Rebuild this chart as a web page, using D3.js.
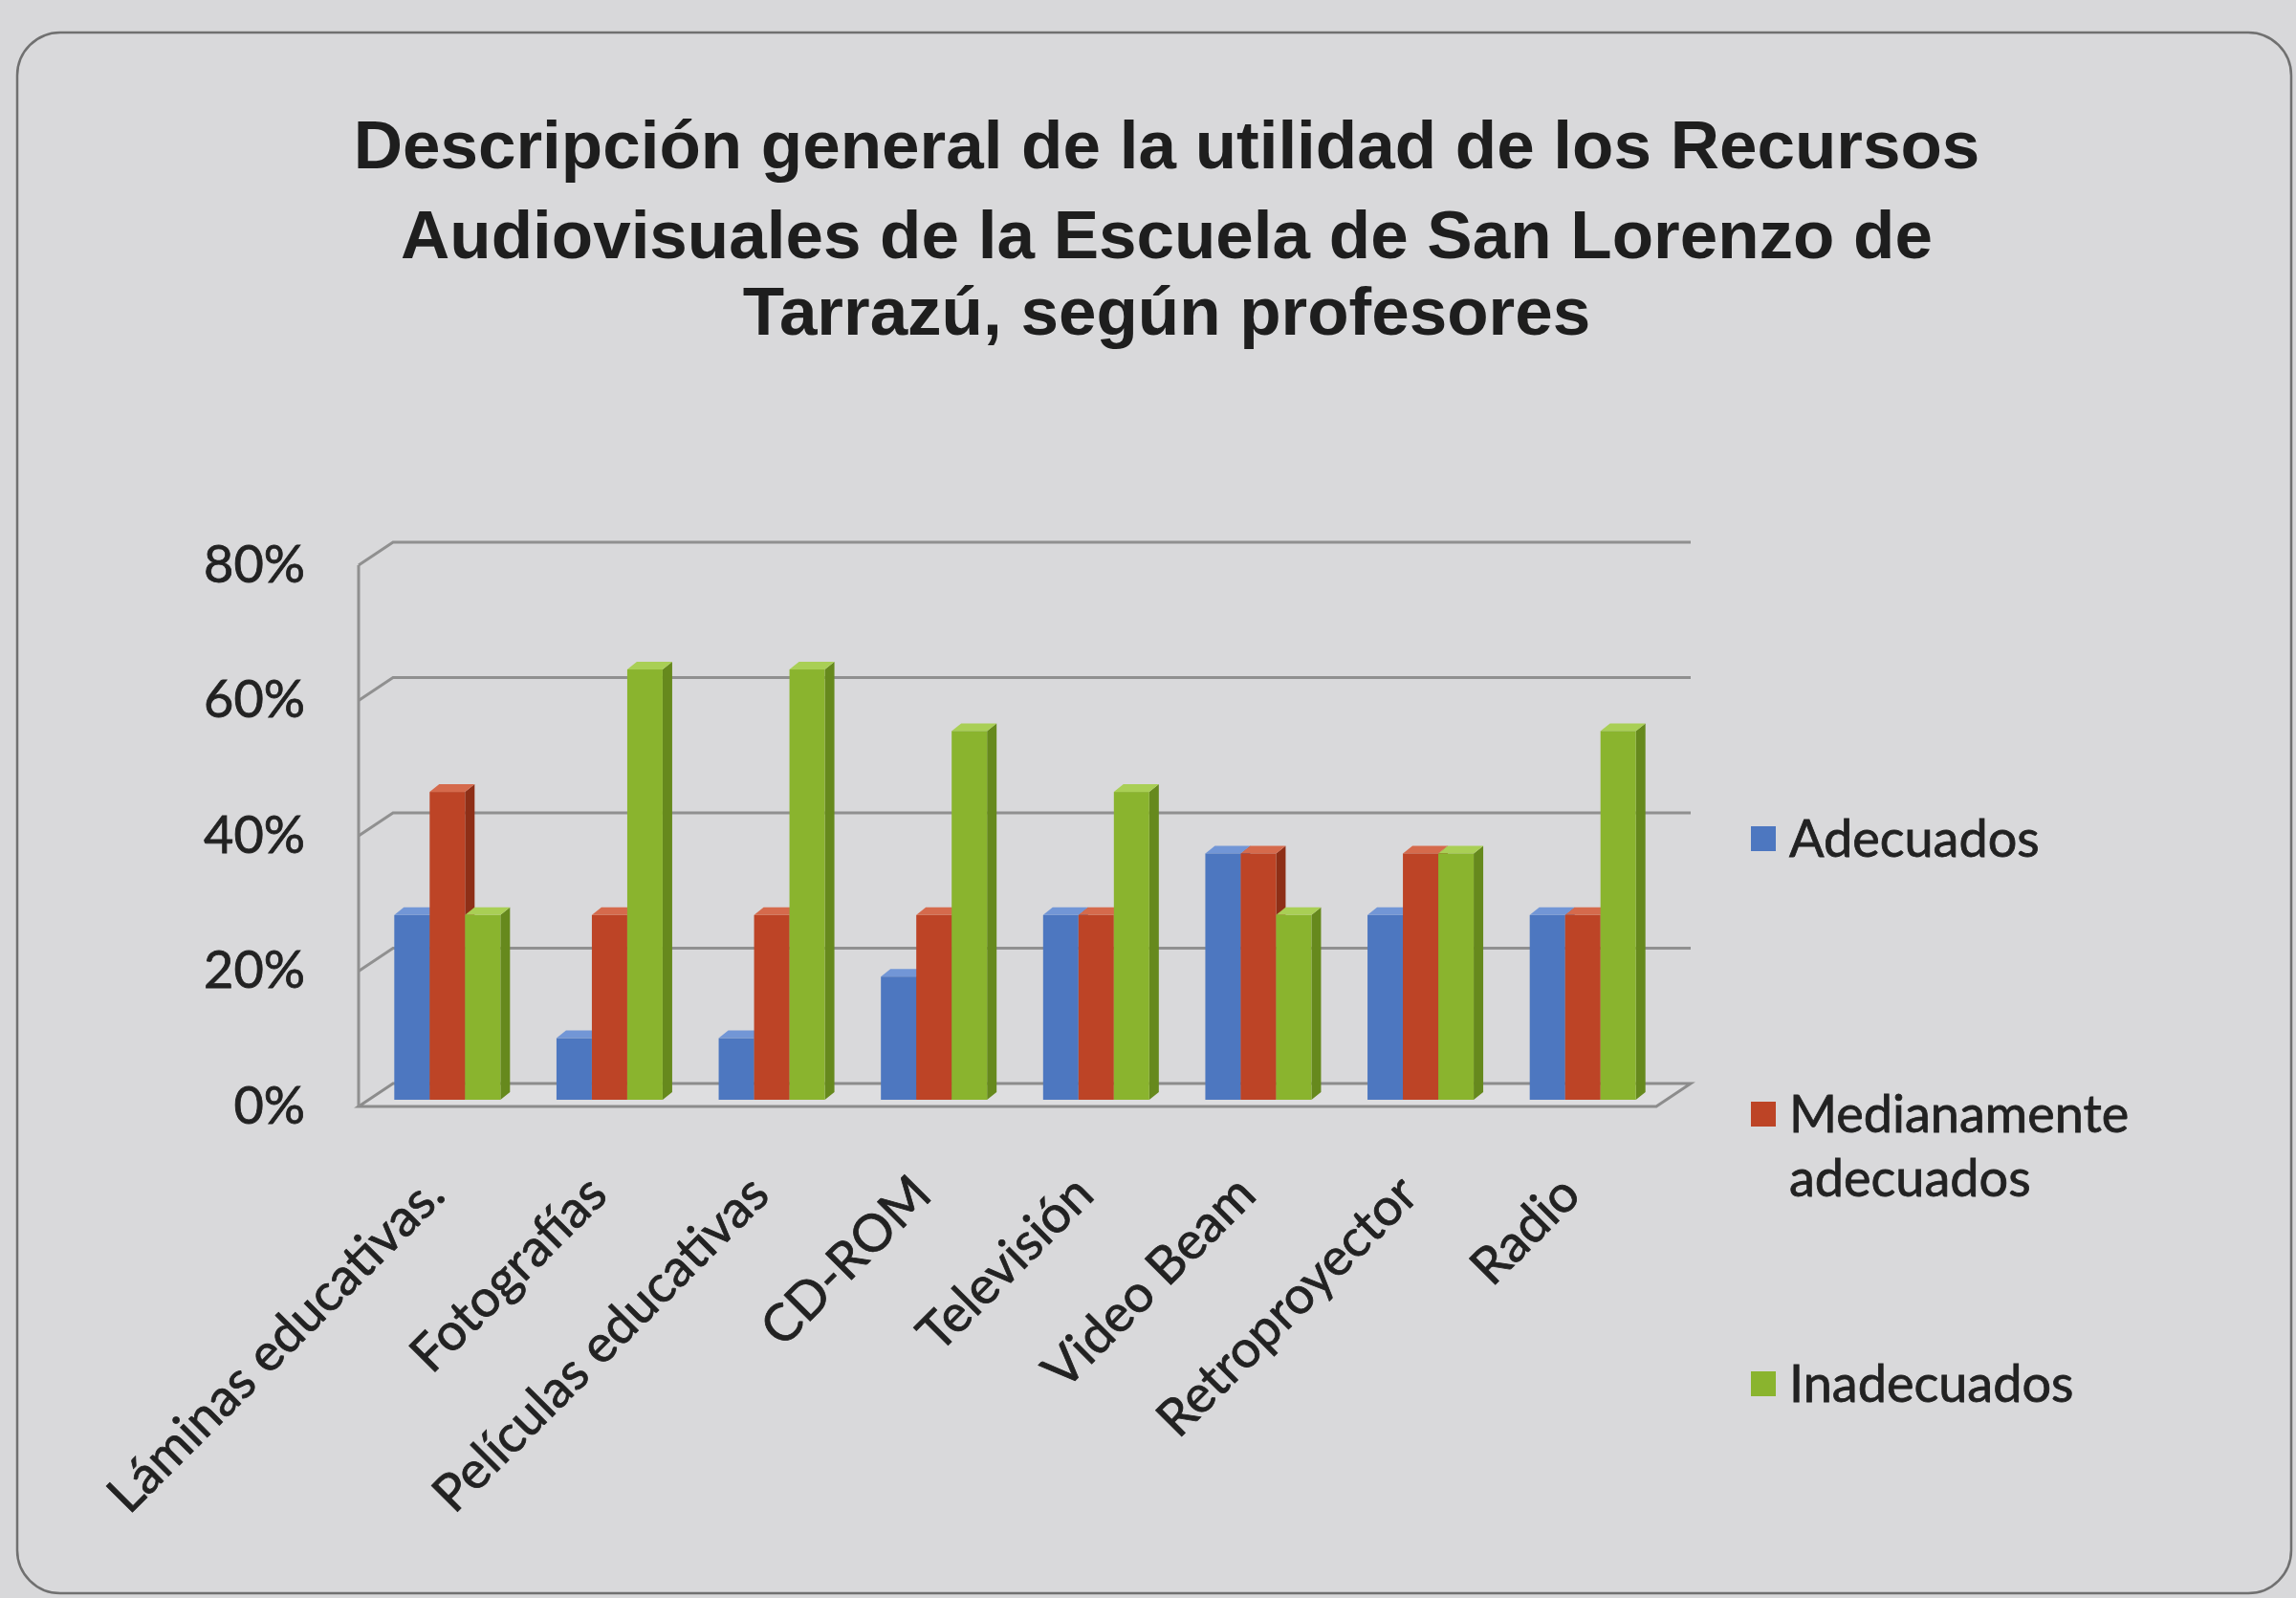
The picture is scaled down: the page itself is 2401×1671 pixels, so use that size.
<!DOCTYPE html>
<html>
<head>
<meta charset="utf-8">
<script src="https://cdn.jsdelivr.net/npm/d3@7"></script>
<style>
  body { margin:0; background:#d8d8da; }
  svg { display:block; }
</style>
</head>
<body>
<svg width="2401" height="1671"></svg>
<script>
// datos (11 profesores -> porcentajes)
var categorias = ["Láminas educativas.", "Fotografías", "Películas educativas", "CD-ROM", "Televisión", "Video Beam", "Retroproyector", "Radio"];
var series = ["Adecuados", "Medianamente adecuados", "Inadecuados"];
var adecuados   = [27.3, 9.1, 9.1, 18.2, 27.3, 36.4, 27.3, 27.3];
var medianos    = [45.5, 27.3, 27.3, 27.3, 27.3, 36.4, 36.4, 27.3];
var inadecuados = [27.3, 63.6, 63.6, 54.5, 45.5, 27.3, 36.4, 54.5];
var ticksY = [0, 20, 40, 60, 80];
var tituloLineas = ["Descripción general de la utilidad de los Recursos", "Audiovisuales de la Escuela de San Lorenzo de", "Tarrazú, según profesores"];

var valores = [adecuados, medianos, inadecuados];
var colFrente = ["#4d77c0", "#bd4426", "#8ab42e"];
var colLado   = ["#36599a", "#8e2f17", "#66891d"];
var colArriba = ["#7296d6", "#d56a4c", "#a9cf55"];
var tamLetra = 54;

var svg = d3.select("svg");

// marco redondeado
svg.append("rect")
  .attr("x", 18).attr("y", 34).attr("width", 2378).attr("height", 1632)
  .attr("rx", 45)
  .style("fill", "#d9d9db")
  .style("stroke", "#707070")
  .style("stroke-width", 2.5);

// titulo
svg.selectAll(".titulo").data(tituloLineas).enter()
  .append("text")
  .attr("x", 1220)
  .attr("y", function(d, i){ return [176, 270, 350][i]; })
  .attr("text-anchor", "middle")
  .attr("font-family", "Liberation Sans, Arial, sans-serif")
  .attr("font-weight", "bold")
  .attr("font-size", 71)
  .attr("fill", "#1e1e1e")
  .text(function(d){ return d; });

// geometria 3D
var x0 = 375, x1 = 1732;       // plano frontal
var prof = [36, -24];          // desplazamiento hacia la pared del fondo
var barProf = [10, -8];        // profundidad de cada barra
var barOff = [8, -7];          // barras un poco detras del frente

var x = d3.scaleBand().domain(categorias).range([x0, x1]);
var xs = d3.scaleBand().domain(series).range([0, 111]);
var y = d3.scaleLinear().domain([0, 80]).range([1157, 591]);

// piso
svg.append("path")
  .attr("d", "M" + x0 + "," + y(0) + "L" + x1 + "," + y(0) +
             "L" + (x1 + prof[0]) + "," + (y(0) + prof[1]) +
             "L" + (x0 + prof[0]) + "," + (y(0) + prof[1]) + "Z")
  .style("fill", "#dedee0")
  .style("stroke", "#8c8c8c")
  .style("stroke-width", 3);

// lineas de division (pared izquierda + fondo)
svg.selectAll(".grid").data(ticksY.slice(1)).enter()
  .append("path")
  .attr("d", function(v){
    return "M" + x0 + "," + y(v) +
           "L" + (x0 + prof[0]) + "," + (y(v) + prof[1]) +
           "L" + (x1 + prof[0]) + "," + (y(v) + prof[1]);
  })
  .style("fill", "none")
  .style("stroke", "#909090")
  .style("stroke-width", 3);

// borde frontal de la pared izquierda
svg.append("line")
  .attr("x1", x0).attr("y1", y(80))
  .attr("x2", x0).attr("y2", y(0))
  .style("stroke", "#909090")
  .style("stroke-width", 3);

// eje Y
var ejeY = svg.append("g")
  .attr("transform", "translate(" + x0 + ",0)")
  .call(d3.axisLeft(y).tickValues(ticksY).tickSize(0).tickPadding(56)
        .tickFormat(function(d){ return d + "%"; }));
ejeY.select(".domain").remove();
ejeY.selectAll("text")
  .attr("font-family", "Lato, sans-serif")
  .attr("font-size", tamLetra)
  .attr("fill", "#222")
  .style("stroke", "#222").style("stroke-width", 0.8);

// barras 3D
categorias.forEach(function(cat, i){
  series.forEach(function(s, j){
    var v = valores[j][i];
    var w = xs.bandwidth();
    var xl = x(cat) + x.bandwidth() / 2 - 55.5 + xs(s) + barOff[0];
    var yb = y(0) + barOff[1];
    var yt = y(v) + barOff[1];
    var g = svg.append("g");
    g.append("path")//lado
      .attr("d", "M" + (xl + w) + "," + yt + "L" + (xl + w + barProf[0]) + "," + (yt + barProf[1]) +
                 "L" + (xl + w + barProf[0]) + "," + (yb + barProf[1]) + "L" + (xl + w) + "," + yb + "Z")
      .style("fill", colLado[j]);
    g.append("path")//arriba
      .attr("d", "M" + xl + "," + yt + "L" + (xl + barProf[0]) + "," + (yt + barProf[1]) +
                 "L" + (xl + w + barProf[0]) + "," + (yt + barProf[1]) + "L" + (xl + w) + "," + yt + "Z")
      .style("fill", colArriba[j]);
    g.append("rect")//frente
      .attr("x", xl).attr("y", yt)
      .attr("width", w).attr("height", yb - yt)
      .style("fill", colFrente[j]);
  });
});

// etiquetas X
svg.selectAll(".cat").data(categorias).enter()
  .append("text")
  .attr("text-anchor", "end")
  .attr("font-family", "Lato, sans-serif")
  .attr("font-size", tamLetra)
  .attr("fill", "#222")
  .style("stroke", "#222").style("stroke-width", 0.8)
  .attr("transform", function(d){
    return "translate(" + (x(d) + x.bandwidth() / 2 + 8) + ",1252) rotate(-45)";
  })
  .text(function(d){ return d; });

// leyenda
var leyY = [877, 1165, 1447];
var leyTextos = [["Adecuados"], ["Medianamente", "adecuados"], ["Inadecuados"]];
series.forEach(function(s, j){
  svg.append("rect")
    .attr("x", 1831).attr("y", leyY[j] - 13)
    .attr("width", 26).attr("height", 26)
    .style("fill", colFrente[j]);
  leyTextos[j].forEach(function(t, k){
    svg.append("text")
      .attr("x", 1871)
      .attr("y", leyY[j] + k * 67)
      .attr("dy", "0.35em")
      .attr("font-family", "Lato, sans-serif")
      .attr("font-size", tamLetra)
      .attr("fill", "#222")
      .style("stroke", "#222").style("stroke-width", 0.8)
      .text(t);
  });
});
</script>
</body>
</html>
